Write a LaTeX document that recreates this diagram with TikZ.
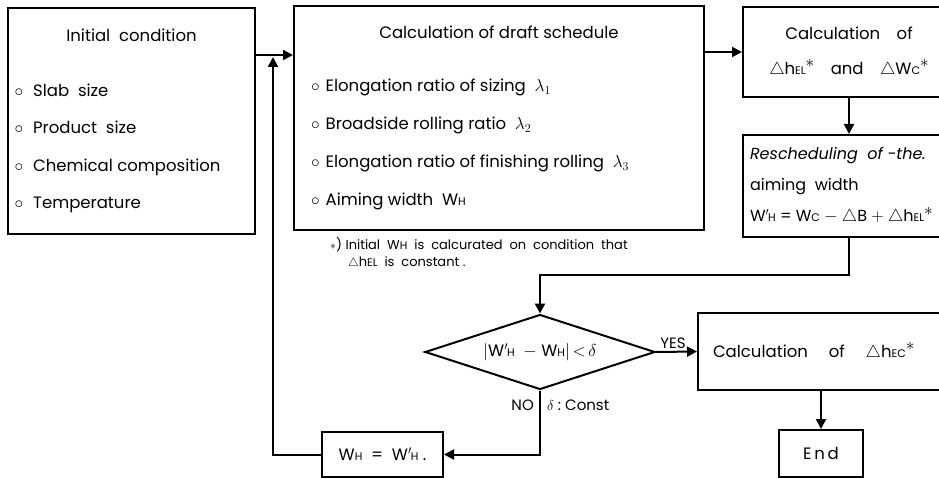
\documentclass[tikz,border=0pt]{standalone}
\usepackage{fontspec}
\setmainfont{Poppins}
\usetikzlibrary{shapes.geometric,arrows.meta}

% small capital indices (W_H, h_EL, ...)
\newcommand{\lo}[1]{{\fontsize{11}{12}\selectfont #1}}
\newcommand{\WH}{W\lo{H}}
\newcommand{\WHp}{W$'$\kern-1pt\lo{H}}
\newcommand{\tri}{$\triangle$}
\newcommand{\st}{\raisebox{.7ex}{$\ast$}}

\begin{document}
\begin{tikzpicture}[
  x=1pt, y=-1pt,
  box/.style={draw=black, line width=2pt, inner sep=0pt},
  link/.style={line width=2pt, draw=black},
  flow/.style={link, -{Triangle[length=10pt, width=10pt]}},
  tag/.style={inner sep=1pt, font=\fontsize{15}{17}\selectfont}
]
  \clip (0,0) rectangle (939,478);

  % Datos de entrada
  \node[box, minimum width=247pt, minimum height=226pt, font=\fontsize{16.5}{37.5}\selectfont] (init) at (131.5,121) {%
    \begin{minipage}{234pt}\centering Initial\ \ condition\par\vspace{17.5pt}\raggedright
    $\circ$\hspace{10pt}Slab\ \ size\par
    $\circ$\hspace{10pt}Product\ \ size\par
    $\circ$\hspace{10pt}Chemical composition\par
    $\circ$\hspace{10pt}Temperature\end{minipage}};

  % Programa de pasadas
  \node[box, minimum width=410pt, minimum height=224pt, font=\fontsize{16.5}{38}\selectfont] (sched) at (499,118) {%
    \begin{minipage}{396pt}\centering Calculation of draft schedule\par\vspace{15pt}\raggedright
    \hspace*{10pt}$\circ$\hspace{6pt}Elongation ratio of sizing\ \ $\lambda_1$\par
    \hspace*{10pt}$\circ$\hspace{6pt}Broadside rolling ratio\ \ $\lambda_2$\par
    \hspace*{10pt}$\circ$\hspace{6pt}Elongation ratio of finishing rolling\ \ $\lambda_3$\par
    \hspace*{10pt}$\circ$\hspace{6pt}Aiming width\ \ \WH\end{minipage}};

  % Bloques de la derecha (cortados por el borde)
  \node[box, minimum width=212pt, minimum height=90pt, align=center, font=\fontsize{16.5}{35}\selectfont] (calc) at (849,52)
    {Calculation\quad of\\\tri h\lo{EL}\st\quad and\quad\tri W\lo{C}\st};
  \node[box, minimum width=212pt, minimum height=102pt, font=\fontsize{16}{31}\selectfont] (resch) at (849,186) {%
    \begin{minipage}{198pt}\raggedright
    \textit{Rescheduling\ \ of -the.}\par
    aiming\ \ width\par
    \WHp\ = W\lo{C} $-$ \tri B $+$ \tri h\lo{EL}\st\end{minipage}};

  % Decision
  \node[box, diamond, aspect=3.07, minimum width=230pt, minimum height=75pt, font=\fontsize{16.5}{18}\selectfont] (check) at (540,352)
    {$|$\WHp\ \ $-$\ \WH$|$\,$<$\,$\delta$};

  \node[box, minimum width=257pt, minimum height=77pt, font=\fontsize{16.5}{18}\selectfont] (final) at (826.5,351.5) {%
    \begin{minipage}{227pt}\raggedright Calculation\quad\ of\quad\ \tri h\lo{EC}\st\end{minipage}};
  \node[box, minimum width=84pt, minimum height=47pt, font=\fontsize{16.5}{18}\selectfont] (done) at (821,453.5) {E\,n\,d};
  \node[box, minimum width=121pt, minimum height=45pt, font=\fontsize{16.5}{18}\selectfont] (update) at (382.5,454.5) {\WH\ \ =\ \ \WHp\ .};

  % Nota al pie
  \node[anchor=north west, inner sep=0pt, align=left, font=\fontsize{13}{17}\selectfont] (note) at (330,237)
    {$\ast$) Initial\ \ \WH\ \ is\ \ calcurated\ \ on\ \ condition\ \ that\\\hspace*{18pt}\tri h\lo{EL}\ \ is\ \ constant\ .};

  % Etiquetas
  \node[tag, anchor=south] (yes) at (673,350) {YES};
  \node[tag, anchor=east] (no) at (535,405) {NO};
  \node[tag, anchor=west] (const) at (546,405) {$\delta$\ :\ Const};

  % Conexiones
  \coordinate (join) at (273,55);
  \coordinate (turn) at (540,275);
  \draw[flow] (init.east |- join) -- (sched.west |- join);
  \draw[flow] (sched.east |- calc.west) -- (calc.west);
  \draw[flow] (calc.south) -- (resch.north);
  \draw[flow] (resch.south) |- (turn) -- (check.north);
  \draw[flow] (check.east) -- (final.west);
  \draw[flow] (check.south) |- (update.east);
  \draw[flow] (final.south -| done.north) -- (done.north);
  \draw[flow, shorten >=2pt] (update.west) -| (join);

\end{tikzpicture}
\end{document}
